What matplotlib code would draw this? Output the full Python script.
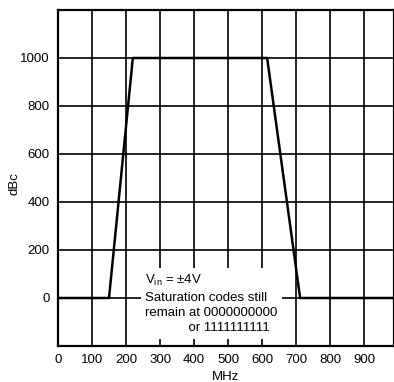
import matplotlib.pyplot as plt

plt.rcParams['font.family'] = ['Liberation Sans', 'DejaVu Sans']
plt.rcParams['mathtext.fontset'] = 'custom'
plt.rcParams['mathtext.rm'] = 'Liberation Sans'

# data
freq_mhz = [0, 150, 220, 615, 712, 1000]
level_dbc = [0, 0, 1000, 1000, 0, 0]

x_ticks = [0, 100, 200, 300, 400, 500, 600, 700, 800, 900]
y_ticks = [0, 200, 400, 600, 800, 1000]

note_lines = ["V$_{\\mathrm{in}}$ = \u00b14V",
              "Saturation codes still",
              "remain at 0000000000",
              "            or 1111111111"]

fig = plt.figure(figsize=(3.94, 3.82), dpi=100)
ax = fig.add_axes([58 / 394, 1 - 346 / 382, 1 - 58 / 394, 336 / 382])

ax.set_xlim(0, 988)
ax.set_ylim(-200, 1200)
ax.set_xticks(x_ticks)
ax.set_yticks(y_ticks)
ax.tick_params(labelsize=9.5, length=0, pad=6)

ax.grid(True, color='black', linewidth=1.2)
ax.set_axisbelow(True)
for s in ax.spines.values():
    s.set_linewidth(1.6)

ax.plot(freq_mhz, level_dbc, color='black', linewidth=1.8, zorder=3)

# note box, white background hides the grid behind it
ax.text(256, 104, "\n".join(note_lines), fontsize=9.5, va='top', ha='left',
        linespacing=1.38, zorder=4,
        bbox=dict(facecolor='white', edgecolor='none', pad=3))

ax.set_xlabel('MHz', fontsize=9.5, labelpad=3)
ax.set_ylabel('dBc', fontsize=9.5)
ax.yaxis.label.set_va('center')
ax.yaxis.set_label_coords((14 - 58) / 336, 0.5 - 6 / 336)

fig.savefig('out.png', dpi=100)
